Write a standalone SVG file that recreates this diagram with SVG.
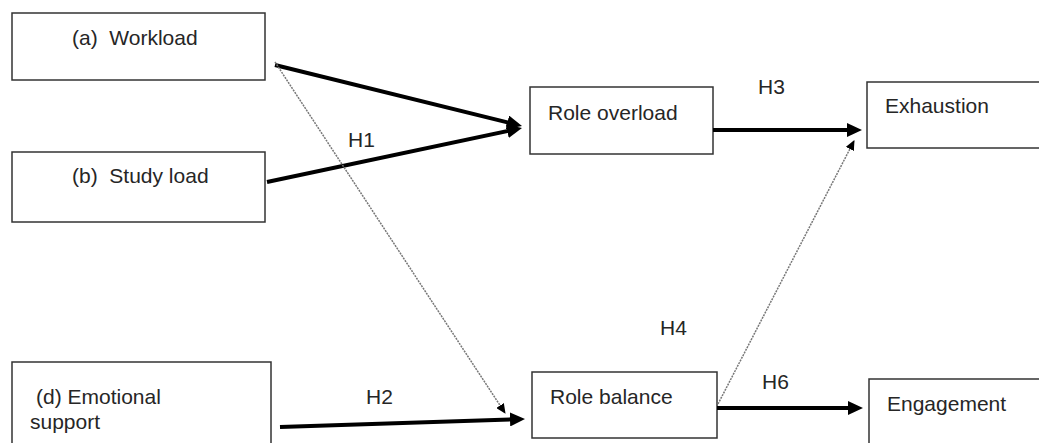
<svg xmlns="http://www.w3.org/2000/svg" width="1039" height="443" viewBox="0 0 1039 443">
<style>
.box{fill:#fff;stroke:#333;stroke-width:1.5}
text{font-family:"Liberation Sans",Arial,sans-serif;font-size:21px;fill:#262626}
.thick{stroke:#000;stroke-width:4;fill:none;marker-end:url(#ah)}
.dot{stroke:#777;stroke-width:1.5;stroke-dasharray:2 1;fill:none;marker-end:url(#ahs)}
</style>
<defs>
<marker id="ah" markerUnits="userSpaceOnUse" viewBox="0 0 15 14" markerWidth="15" markerHeight="14" refX="5" refY="7" orient="auto">
<path d="M0,0 L15,7 L0,14 z" fill="#000"/>
</marker>
<marker id="ahs" markerUnits="userSpaceOnUse" viewBox="0 0 10 9" markerWidth="10" markerHeight="9" refX="9" refY="4.5" orient="auto">
<path d="M0,0 L10,4.5 L0,9 z" fill="#000"/>
</marker>
</defs>
<rect width="1039" height="443" fill="#fff"/>
<g id="workload"><rect class="box" x="12" y="13" width="253" height="67"/><text x="72" y="45" xml:space="preserve">(a)  Workload</text></g>
<g id="studyload"><rect class="box" x="12" y="152" width="253" height="70"/><text x="72" y="183" xml:space="preserve">(b)  Study load</text></g>
<g id="emotional"><rect class="box" x="12" y="362" width="259" height="100"/><text x="36" y="404">(d) Emotional</text><text x="30" y="429">support</text></g>
<g id="roleoverload"><rect class="box" x="530" y="87" width="183" height="67"/><text x="548" y="120">Role overload</text></g>
<g id="rolebalance"><rect class="box" x="532" y="372" width="185" height="66"/><text x="550" y="404">Role balance</text></g>
<g id="exhaustion"><rect class="box" x="867" y="82" width="190" height="66"/><text x="885" y="113">Exhaustion</text></g>
<g id="engagement"><rect class="box" x="869" y="379" width="190" height="90"/><text x="887" y="411">Engagement</text></g>
<g id="connectors">
<line class="thick" x1="275" y1="65" x2="512.3" y2="123.6"/>
<line class="thick" x1="267" y1="182" x2="512.2" y2="130.1"/>
<line class="thick" x1="713" y1="130" x2="852" y2="130"/>
<line class="thick" x1="717" y1="408" x2="853" y2="408"/>
<line class="thick" x1="280" y1="427" x2="515" y2="419.3"/>
<line class="dot" x1="275" y1="62" x2="505" y2="413"/>
<line class="dot" x1="718" y1="404" x2="854" y2="141"/>
<text x="348" y="147">H1</text>
<text x="366" y="404">H2</text>
<text x="758" y="94">H3</text>
<text x="660" y="335">H4</text>
<text x="762" y="389">H6</text>
</g>
</svg>
